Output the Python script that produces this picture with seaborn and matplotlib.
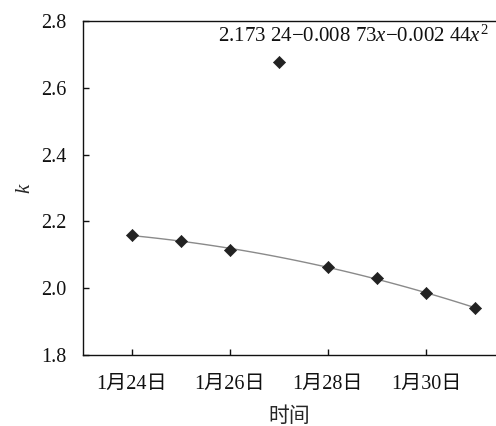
import matplotlib
matplotlib.use("Agg")
import matplotlib.pyplot as plt
import seaborn as sns
import pandas as pd
import numpy as np

days = [24, 25, 26, 27, 28, 29, 30, 31]
k_values = [2.159, 2.141, 2.115, 2.678, 2.064, 2.030, 1.985, 1.941]
outlier_day = 27
tick_days = [24, 26, 28, 30]
tick_labels = ["1月24日", "1月26日", "1月28日", "1月30日"]
equation = "2.173 24\u22120.008 73$x$\u22120.002 44$x^2$"

sns.set_theme(style="white")
plt.rcParams['font.family'] = ['Liberation Serif', 'Noto Sans CJK SC']
plt.rcParams['mathtext.fontset'] = 'custom'
plt.rcParams['mathtext.rm'] = 'Liberation Serif'
plt.rcParams['mathtext.it'] = 'Liberation Serif:italic'

df = pd.DataFrame({"day": days, "k": k_values})
fit_df = df[df["day"] != outlier_day]

fig = plt.figure(figsize=(4.96, 4.26), dpi=100)
ax = fig.add_axes([83/496, 71/426, 1 - 83/496, 334/426])

sns.regplot(data=fit_df, x="day", y="k", order=2, ci=None, scatter=False,
            line_kws=dict(color="#8a8a8a", lw=1.0), ax=ax)
sns.scatterplot(data=df, x="day", y="k", marker="D", s=38, color="#222222",
                edgecolor="#222222", linewidth=0.5, ax=ax, zorder=3)

ax.set_xlim(23, 31.43)
ax.set_ylim(1.8, 2.8)
ax.set_yticks([1.8, 2.0, 2.2, 2.4, 2.6, 2.8])
ax.set_yticklabels(["1.8", "2.0", "2.2", "2.4", "2.6", "2.8"])
ax.set_xticks(tick_days)
ax.set_xticklabels(tick_labels)
ax.tick_params(direction="in", length=4, width=1, colors="#111111", labelsize=14.5,
               bottom=True, left=True)
ax.tick_params(axis="y", pad=12)
ax.tick_params(axis="x", pad=14)
for s in ["left", "bottom", "top"]:
    ax.spines[s].set_color("#111111")
    ax.spines[s].set_linewidth(1.0)
ax.spines["right"].set_visible(False)

ax.set_xlabel("时间", fontsize=15, labelpad=10)
ax.set_ylabel("$k$", fontsize=15, labelpad=4)
ax.text(0.327, 0.955, equation, transform=ax.transAxes, fontsize=15,
        ha="left", va="center", color="#111111")

fig.savefig("out.png", dpi=100)
